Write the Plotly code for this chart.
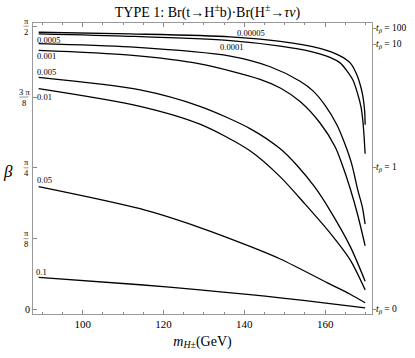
import numpy as np
import plotly.graph_objects as go

# contour levels of Br(t->H+b)*Br(H+->tau nu)
levels = ["0.00005", "0.0001", "0.0005", "0.001", "0.005", "0.01", "0.05", "0.1"]

m_1 = [89.1, 111.7, 136.5, 148.9, 158.7, 163.7, 166.2, 167.9, 168.9, 169.4, 169.8, 169.9]
b_1 = [1.5372, 1.5281, 1.5121, 1.4869, 1.4478, 1.4066, 1.3674, 1.2994, 1.2282, 1.1746, 1.0943, 1.0246]

m_2 = [89.1, 111.7, 136.5, 148.9, 156.3, 161.2, 163.7, 165.3, 166.9, 168.1, 168.9, 169.4, 169.9]
b_2 = [1.5281, 1.5147, 1.4906, 1.4601, 1.4317, 1.3980, 1.3674, 1.3262, 1.2710, 1.1923, 1.1211, 1.0316, 0.8640]

m_3 = [89.1, 111.7, 136.5, 146.4, 153.8, 157.0, 160.0, 162.9, 164.9, 166.6, 168.1, 169.2, 169.9]
b_3 = [1.4746, 1.4558, 1.4049, 1.3460, 1.2657, 1.2121, 1.1318, 1.0246, 0.9175, 0.8050, 0.6604, 0.5694, 0.4730]

m_4 = [89.1, 111.7, 129.0, 143.9, 148.9, 153.8, 158.7, 162.5, 164.1, 166.2, 168.1, 169.9]
b_4 = [1.4371, 1.4103, 1.3621, 1.2764, 1.2282, 1.1532, 1.0354, 0.9014, 0.8104, 0.6711, 0.5212, 0.3535]

m_5 = [89.1, 114.2, 129.0, 141.4, 148.9, 153.0, 157.5, 161.2, 166.2, 169.9]
b_5 = [1.2871, 1.2175, 1.1264, 1.0032, 0.8907, 0.7997, 0.6765, 0.5496, 0.3498, 0.1569]

m_6 = [89.1, 114.2, 129.0, 141.4, 148.9, 155.0, 161.2, 166.2, 169.9]
b_6 = [1.2244, 1.1264, 1.0273, 0.8800, 0.7354, 0.5854, 0.4247, 0.2748, 0.1087]

m_7 = [89.1, 114.2, 129.0, 141.4, 148.9, 161.2, 166.2, 169.9]
b_7 = [0.6818, 0.5587, 0.4542, 0.3498, 0.2801, 0.1409, 0.0846, 0.0375]

m_8 = [89.1, 114.2, 129.0, 141.4, 148.9, 161.2, 169.9]
b_8 = [0.1784, 0.1371, 0.1087, 0.0820, 0.0648, 0.0327, 0.0086]

curves_m = [m_1, m_2, m_3, m_4, m_5, m_6, m_7, m_8]
curves_b = [b_1, b_2, b_3, b_4, b_5, b_6, b_7, b_8]

# where the level labels sit (m, beta)
label_m = [141.7, 136.9, 91.5, 91.0, 91.1, 90.5, 90.5, 89.9]
label_b = [1.5319, 1.4548, 1.4960, 1.4033, 1.3176, 1.1784, 0.7193, 0.2105]

x_ticks = [100, 120, 140, 160]
y_ticks = [0, np.pi / 8, np.pi / 4, 3 * np.pi / 8, np.pi / 2]
y_num = ["0", "π", "π", "3 π", "π"]
y_den = [None, "8", "4", "8", "2"]
tb_values = [0, 1, 10, 100]

SERIF = "Liberation Serif, DejaVu Serif, serif"
PLOT_W = 415 - 33 - 43

fig = go.Figure()
for m, b in zip(curves_m, curves_b):
    fig.add_trace(go.Scatter(x=m, y=b, mode="lines", line=dict(color="black", width=1.3, shape="spline", smoothing=0.8),
                             hoverinfo="skip", showlegend=False))

# invisible trace to carry the right hand tan(beta) axis
fig.add_trace(go.Scatter(x=[m_1[0]], y=[b_1[0]], yaxis="y2", mode="markers", marker=dict(opacity=0),
                         showlegend=False, hoverinfo="skip"))

for txt, lm, lb in zip(levels, label_m, label_b):
    fig.add_annotation(x=lm, y=lb, text=txt, showarrow=False, font=dict(family=SERIF, size=8.5, color="black"),
                       xanchor="center", yanchor="middle")

# left tick labels drawn as small stacked fractions
for yv, num, den in zip(y_ticks, y_num, y_den):
    cx = 26 if num != "3 π" else 24
    px = (cx - 33) / PLOT_W
    if den is None:
        fig.add_annotation(xref="paper", x=(27.5 - 33) / PLOT_W, y=yv, text=num, showarrow=False,
                           font=dict(family=SERIF, size=10, color="black"), xanchor="center", yanchor="middle")
        continue
    fig.add_annotation(xref="paper", x=px, y=yv, yshift=5.5, text=num, showarrow=False,
                       font=dict(family=SERIF, size=8.5, color="black"), xanchor="center", yanchor="middle")
    fig.add_annotation(xref="paper", x=px, y=yv, yshift=-5.5, text=den, showarrow=False,
                       font=dict(family=SERIF, size=8.5, color="black"), xanchor="center", yanchor="middle")
    half = 2.5 if num != "3 π" else 4.5
    fig.add_shape(type="line", xref="paper", yref="y", x0=(cx - half - 33) / PLOT_W, x1=(cx + half - 33) / PLOT_W,
                  y0=yv, y1=yv, line=dict(color="#555", width=0.6))

# right tick labels, tan(beta)
for t in tb_values:
    fig.add_annotation(xref="paper", x=(375 - 33) / PLOT_W, y=float(np.arctan(t)), borderpad=0,
                       text="<i>t</i><sub><i>β</i></sub> = %d" % t, showarrow=False,
                       font=dict(family=SERIF, size=9.5, color="black"), xanchor="left", yanchor="middle")

fig.add_annotation(xref="paper", yref="paper", x=-0.075, y=0.49, text="<i>β</i>", showarrow=False,
                   font=dict(family=SERIF, size=17, color="black"), xanchor="center", yanchor="middle")

yr = [-0.025, 1.5885]
fig.update_layout(
    width=415, height=358,
    margin=dict(l=33, r=43, t=23, b=34),
    plot_bgcolor="white", paper_bgcolor="white",
    title=dict(text="TYPE 1: Br(t→H<sup>±</sup>b)·Br(H<sup>±</sup>→<i>τν</i>)", x=0.5, xanchor="center",
               y=0.967, yanchor="middle", font=dict(family=SERIF, size=14, color="black")),
    xaxis=dict(range=[87.7, 171.6], tickvals=x_ticks, ticks="inside", ticklen=4, tickcolor="#888",
               showline=True, linecolor="#999", linewidth=1, mirror="ticks", showgrid=False, zeroline=False,
               minor=dict(dtick=5, tick0=90, ticks="inside", ticklen=2, tickcolor="#888"),
               tickfont=dict(family=SERIF, size=11, color="black"),
               title=dict(text="<i>m</i><sub><i>H</i>±</sub>(GeV)", standoff=6,
                          font=dict(family=SERIF, size=14, color="black"))),
    yaxis=dict(range=yr, tickvals=y_ticks, showticklabels=False, ticks="inside", ticklen=4, tickcolor="#888",
               showline=True, linecolor="#999", linewidth=1, mirror=True, showgrid=False, zeroline=False),
    yaxis2=dict(range=yr, overlaying="y", side="right", tickvals=[float(np.arctan(t)) for t in tb_values],
                showticklabels=False, ticks="outside", ticklen=3,
                tickcolor="#888", showline=False, showgrid=False, zeroline=False),
)

# the page body has a default 8px margin; drop it so the figure fills the window
fig.write_html("out.html", config={"displayModeBar": False}, post_script="document.body.style.margin='0';")
